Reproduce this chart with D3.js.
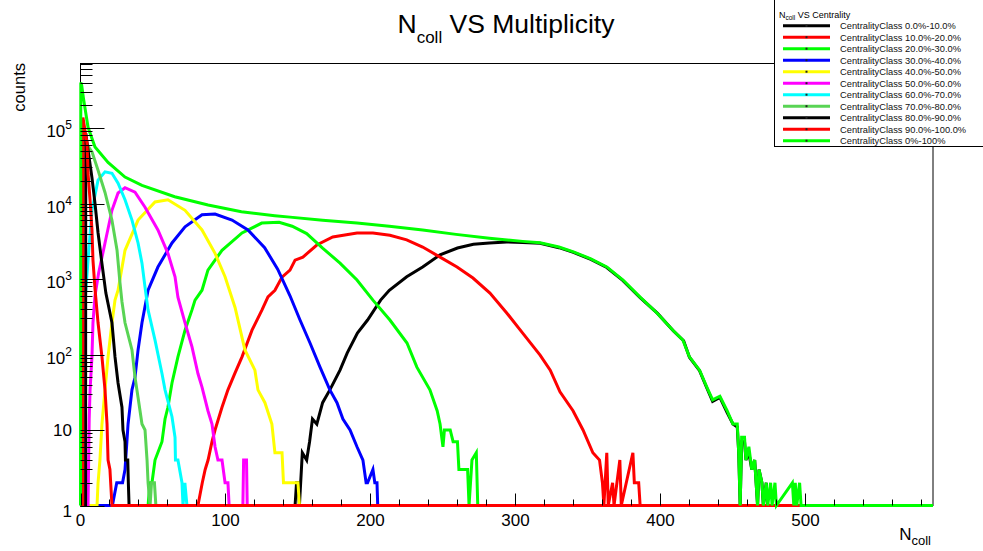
<!DOCTYPE html>
<html>
<head>
<meta charset="utf-8">
<script src="https://cdn.jsdelivr.net/npm/d3@7"></script>
<style>
  body { margin: 0; background: #fff; }
  svg { display: block; font-family: "Liberation Sans", Arial, sans-serif; }
</style>
</head>
<body>
<svg width="983" height="551"></svg>
<script>
// legend entries, in drawing order
const classLabels = [
    "CentralityClass 0.0%-10.0%",
    "CentralityClass 10.0%-20.0%",
    "CentralityClass 20.0%-30.0%",
    "CentralityClass 30.0%-40.0%",
    "CentralityClass 40.0%-50.0%",
    "CentralityClass 50.0%-60.0%",
    "CentralityClass 60.0%-70.0%",
    "CentralityClass 70.0%-80.0%",
    "CentralityClass 80.0%-90.0%",
    "CentralityClass 90.0%-100.0%",
    "CentralityClass 0%-100%",
]

// [Ncoll, counts]
const c0_10 = [[148,1],[149,2],[150,2],[151,1],[153,5],[156,4],[158,7],[160,14],[163,12],[167,23],[172,34],[179,62],[184,105],[191,192],[198,286],[207,525],[213,710],[225,1070],[236,1440],[248,2090],[260,2570],[271,2880],[282,3000],[294,3090],[305,3050],[317,2970],[330,2600],[340,2250],[352,1820],[363,1420],[374,960],[386,565],[398,350],[409,205],[416,152],[420,92],[427,61],[432,36],[436,24],[441,27],[446,17],[450,12],[453,11],[454,5],[455,1],[456,7],[458,7],[459,4],[461,5],[463,3],[465,4],[467,1],[468,3],[470,2],[471,1],[473,2],[474,1]]
const c10_20 = [[81,1],[84,2],[86,3],[88,4],[90.7,7],[92.8,10],[97.6,20],[101.7,34],[106.6,57],[111.4,93],[118.3,210],[125.2,390],[129.3,580],[134.1,710],[139,1060],[144.5,1310],[148,1780],[153.4,1950],[163,2820],[174,3600],[190.7,4070],[201.7,4070],[213.4,3800],[225,3300],[236,2650],[248,1950],[259.7,1440],[270.7,1030],[282.4,650],[294,355],[305,192],[317,98],[324,62],[330.7,32],[339.7,18],[346.6,10],[353.4,5],[358,4],[360,2],[361,1],[363,5],[364,1],[367,2],[368,1],[372,4],[373,1],[381,5],[382,2],[385,2],[386,1]]
const c20_30 = [[46.6,1],[47.9,2],[49.3,2],[51.4,4],[56.2,7],[58.3,14],[60.3,20],[63.1,42],[67.2,93],[72.1,210],[76.9,390],[79,525],[83.8,710],[87.9,1310],[97.6,2400],[111.4,4070],[125,5500],[137,5650],[146,5000],[156,4000],[167,2570],[179,1620],[190.7,970],[201.7,525],[213.4,286],[225.2,142],[232,68],[241,34],[246,18],[248,12],[250,6],[251,10],[255,10],[257,7],[260,7],[261,3],[267,3],[268,1],[270,4],[273,5],[274,1]]
const c30_40 = [[22,1],[25,2],[29,2],[30.7,3],[32,7],[32.8,12],[35.5,34],[37.6,50],[39.7,115],[42.4,263],[46.6,710],[53.4,1440],[63.1,3000],[72.1,4900],[83.8,7080],[92.8,7240],[104.5,6030],[115.5,4470],[127,2600],[136,1350],[144.5,600],[151.4,286],[158.3,142],[165.2,68],[172,34],[176.9,23],[181,14],[185.9,10],[190.7,6],[194.8,4],[197,2],[198,2],[201.7,3],[203,2],[204.5,2],[205,1]]
const c40_50 = [[11.4,1],[12.1,2],[13.4,4],[14.8,12],[16.9,34],[19,93],[21.7,263],[23.8,525],[25.9,710],[30.7,2400],[39.7,6030],[51.4,10470],[60.3,11200],[72.1,8130],[83.8,4470],[92.8,2190],[99.7,1070],[106.6,420],[113.4,115],[120.3,62],[122.4,34],[127.2,23],[132,12],[134.1,5],[139,5],[140,2],[141,2],[150,2],[151,1]]
const c50_60 = [[5.2,1],[6,14],[6.6,34],[7.9,93],[8.6,263],[10,600],[12.5,1200],[16.9,3000],[21.7,8130],[25.9,13800],[30.7,16200],[37.6,14100],[44.5,8910],[53.4,4470],[60.3,2190],[65.2,1070],[67.2,575],[72.1,263],[76.9,126],[81,56],[83.8,37],[87.9,18],[90.7,12],[92.8,6],[94.8,4],[97.6,4],[99.7,2],[101.7,2],[102.5,1],[112,1],[112.5,4],[114.5,4],[115,1]]
const c60_70 = [[2.4,1],[3,25],[3.2,525],[5.2,1780],[7.9,8130],[12.1,20400],[16.9,26300],[21.7,25100],[25.9,18600],[30.7,11200],[35.5,6030],[39.7,3000],[42.4,1620],[44.5,780],[46.6,390],[51.4,155],[56.2,56],[58.3,34],[63.1,15],[65.2,8],[65.5,4],[67.2,4],[70,2],[70.7,1],[72,2],[73.4,1]]
const c70_80 = [[1.5,1],[1.6,70000],[4,62000],[8,48000],[12.1,27500],[16.9,14000],[21.7,6000],[25.2,2400],[27.2,900],[28.6,500],[30.7,263],[35.5,115],[37.6,50],[39.7,27],[42.4,12],[44.5,10],[45.9,4],[46.6,2],[48,1],[49,2],[51,2],[52,1]]
const c80_90 = [[3.5,1],[3.6,85000],[5.2,51000],[7.9,22000],[10,10000],[12.1,4100],[14.8,1600],[17.5,650],[21.7,263],[23.8,93],[25.9,42],[28.6,20],[29.3,10],[30.7,7],[31,4],[32.6,4],[33,2],[33.5,1]]
const c90_100 = [[1.5,1],[1.7,138000],[4.5,63000],[5.2,25000],[6.6,11000],[7.9,4500],[8.6,1780],[10,740],[12.1,263],[14.8,93],[16.9,34],[18.3,12],[19,4],[20.3,3],[21.7,1]]
const c0_100 = [[0,1],[0.2,400000],[0.8,370000],[2,250000],[5.2,102000],[10,56000],[19,35000],[30.7,22400],[42.4,17400],[65,12300],[88,9550],[111,7760],[134,6900],[144.5,6600],[167,6000],[190.7,5500],[213,5000],[236,4470],[259,3900],[282,3470],[305,3150],[317,3020],[330,2650],[340,2290],[352,1850],[363,1445],[374,977],[386,575],[397.6,355],[408.6,209],[415.5,155],[420,93],[427,62],[432,37],[436,25],[441,28],[446,18],[450,12],[453,12],[454,5],[455,1],[456,8],[458,8],[459,4],[461,6],[463,3],[465,4],[467,1],[468,3],[470,2],[471,1],[473,2],[474,1],[476,2],[477,1],[479,2],[480,1],[491,2],[492,1],[493,2],[494,1],[496,2],[497,1]]

const series = [c0_10, c10_20, c20_30, c30_40, c40_50, c50_60, c60_70, c70_80, c80_90, c90_100, c0_100]
const lineColors = ["#000000", "#ff0000", "#00ff00", "#0000ff", "#ffff00", "#ff00ff", "#00ffff", "#59d454", "#000000", "#ff0000", "#00ff00"]

const xMajorTicks = [0, 100, 200, 300, 400, 500]
const xMax = 588
const yMax = 7.26e5
const yDecades = [0, 1, 2, 3, 4, 5]

const svg = d3.select("svg")
const x = d3.scaleLinear().domain([0, xMax]).range([80.5, 933])
const y = d3.scaleLog().domain([1, yMax]).range([505.5, 63])

// frame
svg.append("rect")
    .attr("x", 80.5).attr("y", 63.5)
    .attr("width", 852.5).attr("height", 442)
    .attr("fill", "#fff").attr("stroke", "#000").attr("stroke-width", 1)

// histograms: every one starts from the baseline at 0 and runs to the end of the axis
const line = d3.line()
    .x(d => x(d[0]))
    .y(d => y(Math.max(1, d[1])))

const g = svg.append("g")
series.forEach((s, i) => {
    let pts = s.slice()
    if (pts[0][0] > 0) pts.unshift([0, 1])
    pts.push([xMax, 1])
    g.append("path")
        .attr("d", line(pts))
        .attr("fill", "none")
        .attr("stroke", lineColors[i])
        .attr("stroke-width", 3)
})

// x axis ticks (inward)
const axes = svg.append("g").attr("stroke", "#000").attr("stroke-width", 1)
d3.range(0, xMax, 20).forEach(v => {
    const major = xMajorTicks.includes(v)
    axes.append("line")
        .attr("x1", Math.round(x(v)) + 0.5).attr("x2", Math.round(x(v)) + 0.5)
        .attr("y1", 505.5).attr("y2", 505.5 - (major ? 12 : 6))
})

// y axis ticks (log, inward)
yDecades.forEach(d => {
    for (let k = 1; k <= 9; k++) {
        const v = k * Math.pow(10, d)
        if (v > yMax) break
        const yy = Math.round(y(v)) + 0.5
        axes.append("line")
            .attr("x1", 80.5).attr("x2", 80.5 + (k === 1 ? 24 : 12))
            .attr("y1", yy).attr("y2", yy)
    }
})

// tick labels
svg.append("g").selectAll("text")
    .data(xMajorTicks)
    .join("text")
    .attr("x", d => x(d))
    .attr("y", 526)
    .attr("text-anchor", "middle")
    .attr("font-size", 17)
    .text(d => d)

yDecades.forEach(d => {
    const ty = y(Math.pow(10, d))
    const t = svg.append("text")
        .attr("x", 72)
        .attr("text-anchor", "end")
        .attr("font-size", 17)
    if (d === 0) {
        t.attr("y", 517).text("1")
    } else if (d === 1) {
        t.attr("y", ty + 6).text("10")
    } else {
        t.attr("y", ty + 9).text("10")
        t.append("tspan").attr("dy", -8).attr("font-size", 12).text(d)
    }
})

// axis titles
svg.append("text")
    .attr("transform", "translate(25,63) rotate(-90)")
    .attr("text-anchor", "end")
    .attr("font-size", 16.5)
    .text("counts")

const xt = svg.append("text")
    .attr("x", 931).attr("y", 540)
    .attr("text-anchor", "end")
    .attr("font-size", 17)
    .text("N")
xt.append("tspan").attr("dy", 5).attr("font-size", 13).text("coll")

// title
const title = svg.append("text")
    .attr("x", 506).attr("y", 33)
    .attr("text-anchor", "middle")
    .attr("font-size", 26.5)
    .text("N")
title.append("tspan").attr("dy", 10).attr("font-size", 17).text("coll")
title.append("tspan").attr("dy", -10).text(" VS Multiplicity")

// legend
const lg = svg.append("g")
lg.append("rect")
    .attr("x", 774.5).attr("y", -2)
    .attr("width", 220).attr("height", 148.5)
    .attr("fill", "#fff").attr("stroke", "#000").attr("stroke-width", 1)

const lh = lg.append("text")
    .attr("x", 779).attr("y", 18)
    .attr("font-size", 9)
    .text("N")
lh.append("tspan").attr("dy", 2).attr("font-size", 6.5).text("coll")
lh.append("tspan").attr("dy", -2).text(" VS Centrality")

classLabels.forEach((label, i) => {
    const cy = 25.7 + i * 11.5
    lg.append("line")
        .attr("x1", 783).attr("x2", 830)
        .attr("y1", cy).attr("y2", cy)
        .attr("stroke", lineColors[i])
        .attr("stroke-width", 3)
    lg.append("rect")
        .attr("x", 805.5).attr("y", cy - 1)
        .attr("width", 2).attr("height", 2)
        .attr("fill", "#222")
    lg.append("text")
        .attr("x", 840).attr("y", cy + 3.3)
        .attr("font-size", 9.3)
        .attr("fill", "#111")
        .text(label)
})
</script>
</body>
</html>
